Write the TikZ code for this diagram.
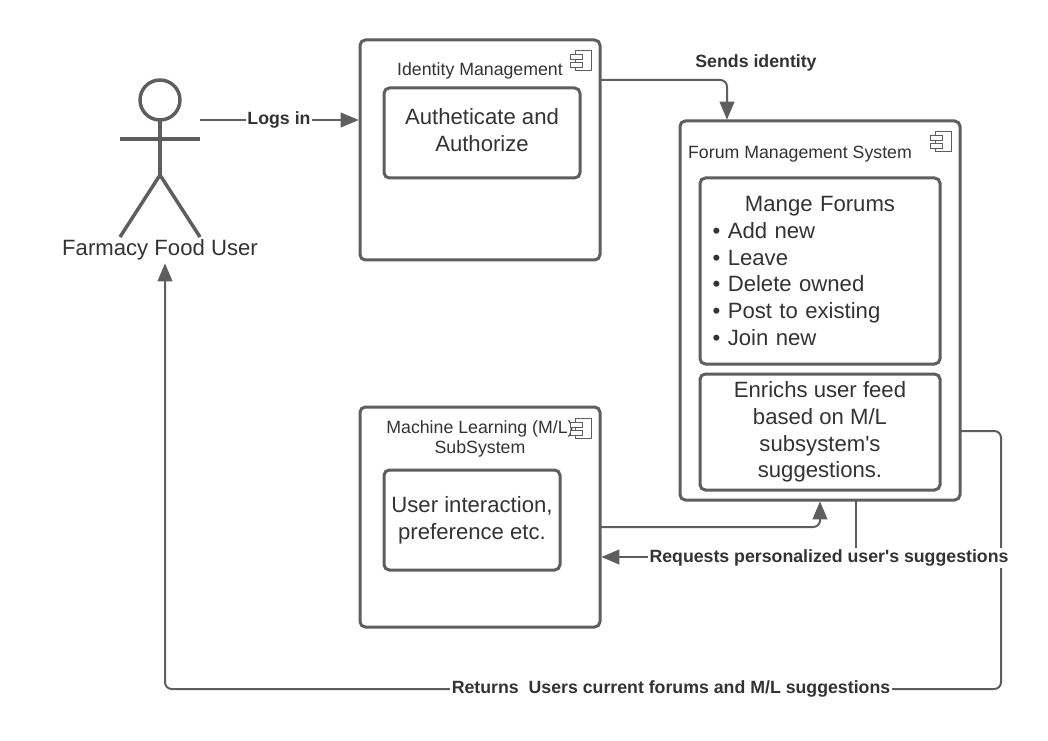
\documentclass[tikz,border=0pt]{standalone}
\usepackage{fontspec}
\setmainfont{Liberation Sans}
\usetikzlibrary{arrows.meta}
\definecolor{ln}{HTML}{5E5E5E}
\definecolor{tx}{HTML}{333333}
\tikzset{
  outerbox/.style={draw=ln,line width=2.25pt,rounded corners=4pt,fill=white,inner sep=0pt,outer sep=0pt},
  innerbox/.style={outerbox,font=\fontsize{16.6pt}{20pt}\selectfont,text=tx,align=center},
  title/.style={text=tx,font=\fontsize{13.3pt}{15.4pt}\selectfont,align=center,inner sep=0pt},
  biglabel/.style={text=tx,font=\fontsize{16.6pt}{20pt}\selectfont,inner sep=0pt,align=center},
  edgelabel/.style={text=tx,font=\bfseries\fontsize{13.3pt}{16pt}\selectfont,fill=white,inner sep=1pt},
  conn/.style={draw=ln,line width=1.5pt,rounded corners=5pt},
  arrowconn/.style={conn,-{Triangle[length=13.5pt,width=11pt]},shorten >=1pt},
  figure/.style={draw=ln,line width=2.6pt},
  icon/.style={draw=ln,line width=0.6pt,fill=white},
}
\newcommand{\compicon}[2]{%
  \draw[icon] (#1,#2) rectangle ++(16,20);
  \draw[icon] (#1-5,#2+4) rectangle ++(12,5);
  \draw[icon] (#1-5,#2+12) rectangle ++(12,5);
}
\begin{document}
\begin{tikzpicture}[x=0.75pt,y=-0.75pt]
\useasboundingbox[fill=white] (0,0) rectangle (1048,741);

% actor
\draw[figure] (160,100) circle (20);
\draw[figure] (160,120) -- (160,175);
\draw[figure] (120,139) -- (200,139);
\draw[figure,line join=miter] (120,237) -- (160,175) -- (200,237);
\node[biglabel] (user) at (160,250) {Farmacy Food User};
\coordinate (actorhand) at (200,120);
\coordinate (actorfoot) at (165,262);

% containers
\node[outerbox,minimum width=180pt,minimum height=165pt] (idm) at (480,150) {};
\node[outerbox,minimum width=210pt,minimum height=284.25pt] (forum) at (820,310.5) {};
\node[outerbox,minimum width=180pt,minimum height=165pt] (ml) at (480,517) {};

% titles and icons
\node[title] (idmt) at (480,71) {Identity Management};
\node[title] (forumt) at (800,154) {Forum Management System};
\node[title] (mlt) at (480,439) {Machine Learning (M/L)\\SubSystem};
\compicon{575}{50}
\compicon{935}{131}
\compicon{575}{418}

% inner boxes
\node[outerbox,minimum width=147pt,minimum height=67.5pt] (auth) at (482,133) {};
\node[biglabel] (autht) at (482,130) {Autheticate and\\Authorize};
\node[innerbox,minimum width=180pt,minimum height=139.5pt,text width=161pt,align=left] (mange) at (820,271)
  {\makebox[\linewidth][c]{Mange Forums}\\• Add new\\• Leave\\• Delete owned\\• Post to existing\\• Join new};
\node[innerbox,minimum width=180pt,minimum height=87pt] (enrich) at (820,432) {Enrichs user feed\\based on M/L\\subsystem\textquotesingle s\\suggestions.};
\node[outerbox,minimum width=132pt,minimum height=75pt] (pref) at (472,520) {};
\node[biglabel] (preft) at (472,520) {User interaction,\\preference etc.};

% connector way-points
\coordinate (s1) at (727,80);
\coordinate (m1) at (820,527);
\coordinate (r1) at (856,557);
\coordinate (t1) at (1001,431);
\coordinate (t2) at (1001,689);

% connectors
\draw[arrowconn] (actorhand) -- (idm.west |- actorhand);
\draw[arrowconn] (idm.east |- s1) -- (s1) -- (forum.north -| s1);
\draw[arrowconn] (ml.east |- m1) -- (m1) -- (forum.south -| m1);
\draw[arrowconn,rounded corners=0pt] (forum.south -| r1) -- (r1) -- (ml.east |- r1);
\draw[arrowconn] (forum.east |- t1) -- (t1) -- (t2) -- (actorfoot |- t2) -- (actorfoot);

% connector labels
\node[edgelabel] (lg) at (279,120) {Logs in};
\node[edgelabel,fill=none] (si) at (756,63) {Sends identity};
\node[edgelabel] (rq) at (829,558) {Requests personalized user\textquotesingle s suggestions};
\node[edgelabel] (rt) at (671,689) {Returns\ \ Users current forums and M/L suggestions};
\end{tikzpicture}
\end{document}
